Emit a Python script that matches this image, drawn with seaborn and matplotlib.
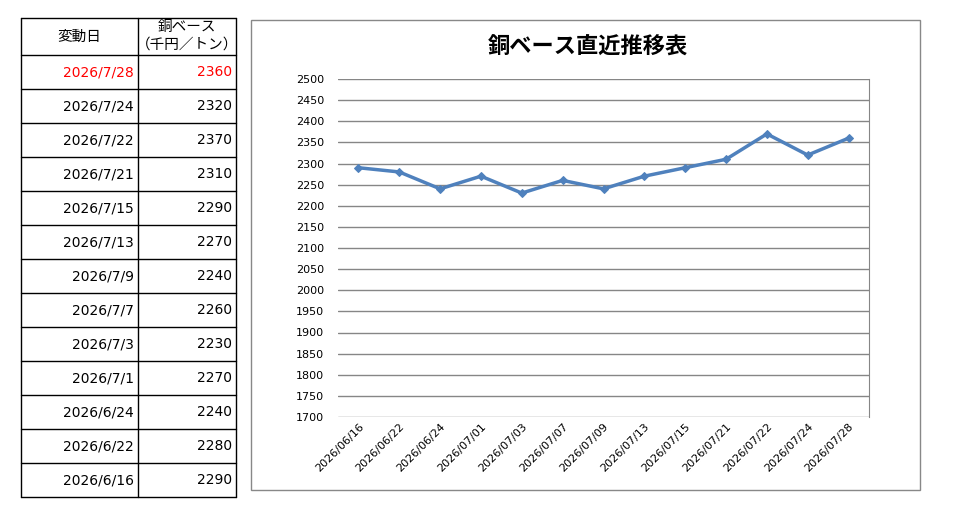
import matplotlib
matplotlib.use("Agg")
import matplotlib.pyplot as plt
import seaborn as sns
import pandas as pd

# chronological data
dates = ["2026-06-16", "2026-06-22", "2026-06-24", "2026-07-01", "2026-07-03",
         "2026-07-07", "2026-07-09", "2026-07-13", "2026-07-15", "2026-07-21",
         "2026-07-22", "2026-07-24", "2026-07-28"]
prices = [2290, 2280, 2240, 2270, 2230, 2260, 2240, 2270, 2290, 2310, 2370, 2320, 2360]
y_ticks = list(range(1700, 2501, 50))

title = "銅ベース直近推移表"
col_date = "変動日"
col_price = ["銅ベース", "（千円／トン）"]

sns.set_style("white")
plt.rcParams["font.family"] = ["Noto Sans CJK JP", "DejaVu Sans"]
plt.rcParams["text.color"] = "black"
plt.rcParams["xtick.color"] = "black"
plt.rcParams["ytick.color"] = "black"

df = pd.DataFrame({"date": pd.to_datetime(dates), "price": prices})
df["label"] = df["date"].dt.strftime("%Y/%m/%d")
df["table_label"] = df["date"].apply(lambda d: f"{d.year}/{d.month}/{d.day}")

fig = plt.figure(figsize=(9.56, 5.15), dpi=100)

# background axes in pixel coordinates for table and chart frame
bg = fig.add_axes([0, 0, 1, 1])
bg.set_xlim(0, 956)
bg.set_ylim(515, 0)
bg.axis("off")

# table
x0, x1, x2 = 21, 138, 236
top, head_bottom, row_h = 18, 55, 34
n = len(df)
bottom = head_bottom + row_h * n
for x in (x0, x1, x2):
    bg.plot([x, x], [top, bottom], color="black", lw=1)
for y in [top, head_bottom] + [head_bottom + row_h * (i + 1) for i in range(n)]:
    bg.plot([x0, x2], [y, y], color="black", lw=1)

bg.text((x0 + x1) / 2, (top + head_bottom) / 2, col_date, ha="center", va="center", fontsize=10.5)
bg.text((x1 + x2) / 2, 27, col_price[0], ha="center", va="center", fontsize=10.5)
bg.text((x1 + x2) / 2, 45, col_price[1], ha="center", va="center", fontsize=10.5)

table_df = df.iloc[::-1].reset_index(drop=True)
for i, row in table_df.iterrows():
    yc = head_bottom + row_h * i + row_h / 2
    c = "#FF0000" if i == 0 else "black"
    bg.text(x1 - 4, yc, row["table_label"], ha="right", va="center", fontsize=10, color=c,
            family=["DejaVu Sans"])
    bg.text(x2 - 4, yc, str(row["price"]), ha="right", va="center", fontsize=10, color=c,
            family=["DejaVu Sans"])

# chart frame
bg.add_patch(plt.Rectangle((251, 20), 669, 470, fill=False, edgecolor="#888888", lw=1))
bg.text(588, 47, title, ha="center", va="center", fontsize=16, fontweight="bold")

# plot area
ax = fig.add_axes([338 / 956, 1 - 417 / 515, 531 / 956, 338 / 515])
sns.lineplot(data=df, x="label", y="price", ax=ax, color="#4F81BD", lw=2.5,
             marker="D", markersize=4.5, markeredgecolor="#4F81BD", sort=False)
ax.set_xlim(-0.5, n - 0.5)
ax.set_ylim(1700, 2500)
ax.set_yticks(y_ticks)
ax.yaxis.grid(True, color="#868686", lw=1)
ax.xaxis.grid(False)
for s in ("left", "top", "bottom"):
    ax.spines[s].set_visible(False)
ax.spines["right"].set_color("#868686")
ax.set_xlabel("")
ax.set_ylabel("")
ax.tick_params(axis="y", length=0, pad=10, labelsize=8)
ax.tick_params(axis="x", length=0, pad=3, labelsize=8)
plt.setp(ax.get_xticklabels(), rotation=45, ha="right", rotation_mode="anchor")
for lbl in ax.get_xticklabels() + ax.get_yticklabels():
    lbl.set_family(["DejaVu Sans"])

fig.savefig("out.png", dpi=100)
